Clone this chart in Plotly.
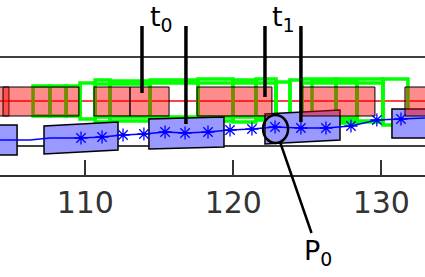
import plotly.graph_objects as go

# ---------------- data ----------------
x_ticks = [110, 120, 130]
x_range = [104.236, 132.953]
y_range = [0, 17.5]

# reference horizontal lines (y levels)
top_line_y = 11.8
mid_line_y = 2.9
red_line_y = 7.4

# red boxes
red_x0 = [103.56, 104.44, 110.59, 113.02, 117.55, 124.57, 131.60]
red_x1 = [104.84, 109.57, 113.02, 115.66, 122.61, 129.57, 133.97]
red_y0 = [5.9] * 7
red_y1 = [8.8] * 7

# green outlines
green_x0 = [106.47, 107.61, 108.70, 109.64, 110.66, 111.67, 114.37, 117.61, 119.98,
            121.53, 122.89, 123.83, 124.64, 125.32, 126.94, 128.36, 130.11,
            110.66, 114.37, 117.61, 124.64]
green_x1 = [107.61, 108.70, 109.64, 110.66, 111.67, 114.37, 117.61, 119.98, 121.53,
            122.89, 123.83, 124.64, 126.94, 128.36, 130.11, 130.11, 131.80,
            114.37, 117.61, 122.89, 128.36]
green_y0 = [5.9, 5.9, 5.9, 5.6, 5.3, 5.4, 5.2, 5.4, 5.3, 5.5, 5.7, 5.4, 5.3, 5.2, 5.4, 5.3, 5.0,
            5.8, 5.8, 5.8, 5.7]
green_y1 = [8.9, 8.9, 8.9, 9.2, 9.5, 9.4, 9.5, 9.6, 9.5, 9.6, 9.3, 9.5, 9.6, 9.5, 9.6, 9.2, 9.6,
            9.1, 9.2, 9.2, 9.2]

# blue boxes (slanted quads)
blue_x0 = [103.90, 107.21, 114.30, 122.14, 130.72]
blue_x1 = [105.39, 112.21, 119.37, 127.21, 133.97]
blue_top_l = [5.0, 4.9, 5.6, 6.1, 6.6]
blue_top_r = [5.0, 5.3, 5.8, 6.5, 6.6]
blue_bot_l = [2.0, 2.1, 2.6, 3.1, 3.7]
blue_bot_r = [2.0, 2.5, 2.8, 3.5, 3.7]

# blue trajectory
traj_x = [104.24, 106.26, 107.61, 109.71, 111.13, 112.55, 113.96, 115.39, 116.74, 118.29,
          119.78, 121.26, 122.82, 124.57, 126.26, 127.95, 129.70, 131.33, 132.95]
traj_y = [3.5, 3.5, 3.7, 3.7, 3.8, 4.0, 4.1, 4.3, 4.2, 4.3,
          4.5, 4.6, 4.8, 4.7, 4.7, 4.9, 5.5, 5.6, 5.7]
marker_idx = list(range(3, 18))

# annotation markers
t_labels = ["t<sub>0</sub>", "t<sub>1</sub>"]
t_label_x = [115.18, 123.36]
t_label_y = 15.7
t_line_x = [113.83, 116.80, 122.14, 124.57]
t_line_top = 14.9
t_line_bot = [8.2, 5.1, 7.8, 5.3]

circle_x = [122.01, 123.70]
circle_y = [3.2, 6.0]
p_label = "P<sub>0</sub>"
p_point = (123.16, 3.3)

# ---------------- figure ----------------
fig = go.Figure()

shapes = []
shapes.append(dict(type="line", xref="paper", x0=0, x1=1, y0=mid_line_y, y1=mid_line_y,
                   line=dict(color="black", width=1.5), layer="below"))
shapes.append(dict(type="line", xref="paper", x0=0, x1=1, y0=top_line_y, y1=top_line_y,
                   line=dict(color="black", width=1.5), layer="below"))
for x0, x1, y0, y1 in zip(green_x0, green_x1, green_y0, green_y1):
    shapes.append(dict(type="rect", x0=x0, x1=x1, y0=y0, y1=y1,
                       line=dict(color="#00ff00", width=3.5), fillcolor="rgba(0,0,0,0)",
                       layer="below"))
for x0, x1, tl, tr, bl, br in zip(blue_x0, blue_x1, blue_top_l, blue_top_r, blue_bot_l, blue_bot_r):
    path = f"M {x0},{bl} L {x0},{tl} L {x1},{tr} L {x1},{br} Z"
    shapes.append(dict(type="path", path=path, fillcolor="rgb(153,153,255)",
                       line=dict(color="black", width=1.5), layer="below"))
for x0, x1, y0, y1 in zip(red_x0, red_x1, red_y0, red_y1):
    shapes.append(dict(type="rect", x0=x0, x1=x1, y0=y0, y1=y1,
                       fillcolor="rgba(255,0,0,0.45)",
                       line=dict(color="black", width=1), layer="below"))
shapes.append(dict(type="line", xref="paper", x0=0, x1=1, y0=red_line_y, y1=red_line_y,
                   line=dict(color="red", width=1.5), layer="below"))
for x, yb in zip(t_line_x, t_line_bot):
    shapes.append(dict(type="line", x0=x, x1=x, y0=yb, y1=t_line_top,
                       line=dict(color="black", width=3.5), layer="above"))
shapes.append(dict(type="circle", x0=circle_x[0], x1=circle_x[1], y0=circle_y[0], y1=circle_y[1],
                   line=dict(color="black", width=2.5), layer="above"))

fig.add_trace(go.Scatter(x=traj_x, y=traj_y, mode="lines",
                         line=dict(color="blue", width=1.5), hoverinfo="skip", showlegend=False))
fig.add_trace(go.Scatter(x=[traj_x[i] for i in marker_idx], y=[traj_y[i] for i in marker_idx],
                         mode="markers",
                         marker=dict(symbol="asterisk-open", size=11,
                                     line=dict(color="blue", width=1.3), color="blue"),
                         hoverinfo="skip", showlegend=False))

annotations = []
for txt, x in zip(t_labels, t_label_x):
    annotations.append(dict(x=x, y=t_label_y, text=txt, showarrow=False,
                            font=dict(family="DejaVu Sans", size=27, color="black")))
annotations.append(dict(x=p_point[0], y=p_point[1], text=p_label, showarrow=True,
                        arrowhead=0, arrowwidth=2.5, arrowcolor="black", ax=38, ay=110,
                        font=dict(family="DejaVu Sans", size=27, color="black")))

fig.update_layout(
    width=425, height=277,
    margin=dict(l=0, r=0, t=0, b=102, autoexpand=False),
    plot_bgcolor="white", paper_bgcolor="white",
    shapes=shapes, annotations=annotations,
    showlegend=False,
    xaxis=dict(range=x_range, tickvals=x_ticks, ticktext=[str(v) for v in x_ticks],
               ticks="inside", ticklen=15, tickwidth=1.5, tickcolor="#333",
               showline=True, linecolor="#333", linewidth=1.5,
               showgrid=False, zeroline=False,
               tickfont=dict(family="DejaVu Sans", size=30, color="#333")),
    yaxis=dict(range=y_range, visible=False, showgrid=False, zeroline=False),
)

fig.write_html("out.html", config={"displayModeBar": False},
               post_script="document.body.style.margin='0px';document.body.style.overflow='hidden';")
